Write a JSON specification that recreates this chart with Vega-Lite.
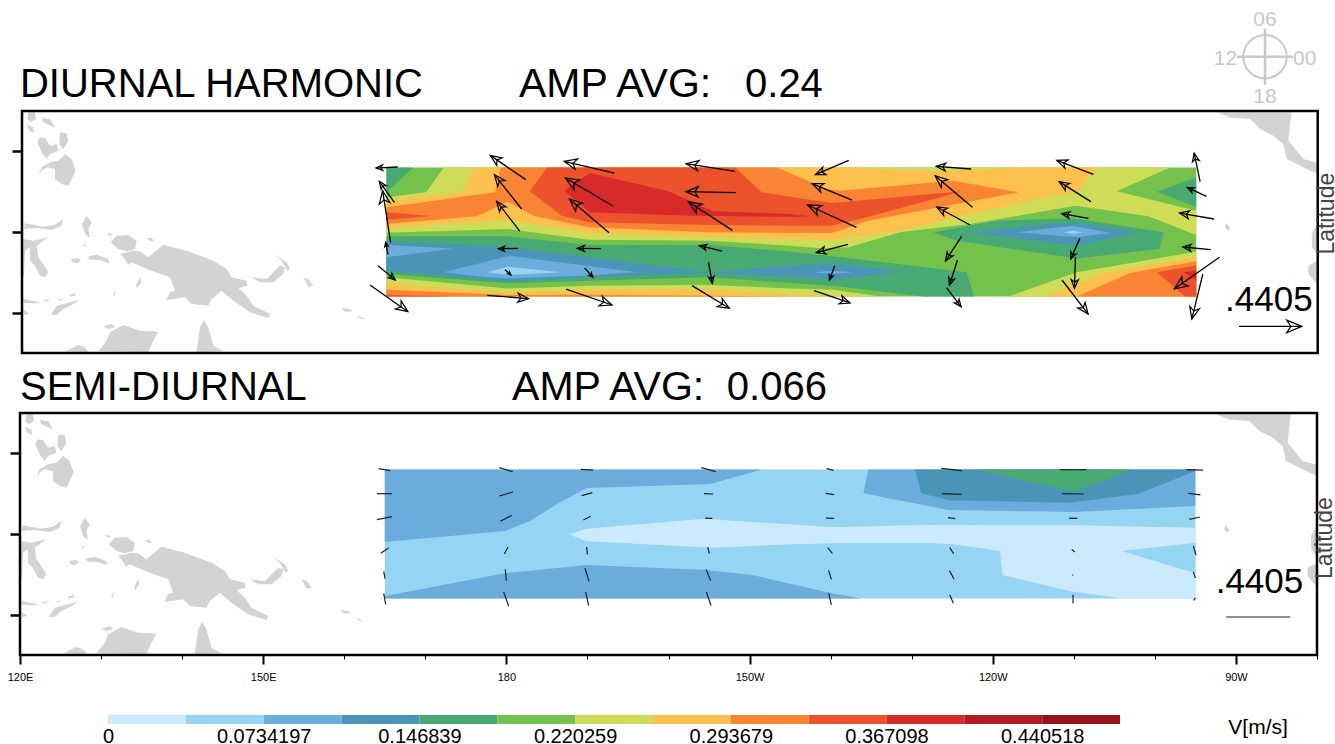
{
"$schema":"https://vega.github.io/schema/vega-lite/v6.json",
"padding":{"left":7,"top":8,"right":0,"bottom":0},
"background":"white",
"config":{"font":"Liberation Sans","view":{"stroke":null}},
"spacing":33,
"datasets":{
"frame":[{"lon":120,"lon2":280,"lat":-15,"lat2":15}],
"land":[
{"s":"a","lon":120.78,"lat":14.83},{"s":"a","lon":121.6,"lat":14.83},{"s":"a","lon":121.73,"lat":14.01},{"s":"a","lon":121.07,"lat":13.59},{"s":"a","lon":120.66,"lat":14.01},
{"s":"b","lon":122.42,"lat":14.13},{"s":"b","lon":123.45,"lat":14.01},{"s":"b","lon":124.07,"lat":12.97},{"s":"b","lon":123.25,"lat":13.3},{"s":"b","lon":122.63,"lat":13.59},
{"s":"c","lon":120.57,"lat":13.3},{"s":"c","lon":121.4,"lat":12.97},{"s":"c","lon":121.48,"lat":12.27},{"s":"c","lon":120.9,"lat":12.56},
{"s":"d","lon":122.14,"lat":11.73},{"s":"d","lon":122.84,"lat":11.65},{"s":"d","lon":123.45,"lat":10.7},{"s":"d","lon":124.28,"lat":10.91},{"s":"d","lon":124.48,"lat":10.08},{"s":"d","lon":123.45,"lat":9.67},{"s":"d","lon":123.04,"lat":9.05},{"s":"d","lon":122.42,"lat":9.88},{"s":"d","lon":121.89,"lat":11.11},
{"s":"e","lon":124.69,"lat":12.35},{"s":"e","lon":125.51,"lat":12.27},{"s":"e","lon":125.72,"lat":11.32},{"s":"e","lon":125.1,"lat":10.29},{"s":"e","lon":124.61,"lat":10.91},
{"s":"f","lon":122.01,"lat":6.98},{"s":"f","lon":122.42,"lat":8.02},{"s":"f","lon":123.45,"lat":8.64},{"s":"f","lon":124.48,"lat":8.84},{"s":"f","lon":125.31,"lat":9.67},{"s":"f","lon":126.13,"lat":9.05},{"s":"f","lon":126.62,"lat":7.6},{"s":"f","lon":126.13,"lat":6.57},{"s":"f","lon":125.72,"lat":5.74},{"s":"f","lon":124.89,"lat":5.95},{"s":"f","lon":124.07,"lat":6.57},{"s":"f","lon":124.07,"lat":7.81},{"s":"f","lon":123.04,"lat":8.02},{"s":"f","lon":122.42,"lat":7.6},
{"s":"g","lon":127.98,"lat":2.02},{"s":"g","lon":128.6,"lat":1.2},{"s":"g","lon":128.19,"lat":0.37},{"s":"g","lon":128.39,"lat":-0.74},{"s":"g","lon":127.78,"lat":-0.25},{"s":"g","lon":127.41,"lat":1.0},
{"s":"h","lon":120.37,"lat":1.07},{"s":"h","lon":122.63,"lat":0.66},{"s":"h","lon":124.07,"lat":0.91},{"s":"h","lon":125.1,"lat":1.61},{"s":"h","lon":124.89,"lat":0.78},{"s":"h","lon":123.66,"lat":0.25},{"s":"h","lon":121.81,"lat":0.5},{"s":"h","lon":120.24,"lat":0.37},
{"s":"i","lon":120.16,"lat":-0.87},{"s":"i","lon":121.4,"lat":-1.07},{"s":"i","lon":123.25,"lat":-0.66},{"s":"i","lon":121.81,"lat":-1.69},{"s":"i","lon":122.01,"lat":-3.14},{"s":"i","lon":122.63,"lat":-3.97},{"s":"i","lon":123.25,"lat":-5.0},{"s":"i","lon":122.84,"lat":-5.62},{"s":"i","lon":122.22,"lat":-5.41},{"s":"i","lon":121.6,"lat":-4.17},{"s":"i","lon":120.98,"lat":-3.55},{"s":"i","lon":120.98,"lat":-1.9},{"s":"i","lon":120.37,"lat":-2.31},{"s":"i","lon":120.24,"lat":-5.41},{"s":"i","lon":120.08,"lat":-5.41},
{"s":"j","lon":126.05,"lat":-3.35},{"s":"j","lon":126.95,"lat":-3.22},{"s":"j","lon":127.24,"lat":-3.55},{"s":"j","lon":126.75,"lat":-3.88},{"s":"j","lon":126.25,"lat":-3.76},
{"s":"k","lon":128.06,"lat":-3.06},{"s":"k","lon":129.22,"lat":-2.81},{"s":"k","lon":130.66,"lat":-3.35},{"s":"k","lon":130.78,"lat":-3.88},{"s":"k","lon":129.63,"lat":-3.47},{"s":"k","lon":128.39,"lat":-3.43},
{"s":"l","lon":130.45,"lat":-0.12},{"s":"l","lon":131.27,"lat":-0.25},{"s":"l","lon":130.86,"lat":-0.45},
{"s":"m","lon":135.39,"lat":-0.74},{"s":"m","lon":136.01,"lat":-0.74},{"s":"m","lon":136.3,"lat":-1.16},{"s":"m","lon":135.8,"lat":-1.07},
{"s":"n","lon":127.41,"lat":-1.57},{"s":"n","lon":128.06,"lat":-1.57},{"s":"n","lon":127.78,"lat":-1.78},
{"s":"o","lon":130.95,"lat":-1.28},{"s":"o","lon":131.69,"lat":-0.45},{"s":"o","lon":133.13,"lat":-0.37},{"s":"o","lon":134.16,"lat":-1.07},{"s":"o","lon":133.95,"lat":-2.11},{"s":"o","lon":132.92,"lat":-2.4},{"s":"o","lon":131.89,"lat":-2.11},
{"s":"p","lon":132.1,"lat":-2.73},{"s":"p","lon":133.74,"lat":-2.31},{"s":"p","lon":134.57,"lat":-2.4},{"s":"p","lon":135.6,"lat":-3.14},{"s":"p","lon":137.45,"lat":-1.57},{"s":"p","lon":140.33,"lat":-2.31},{"s":"p","lon":143.62,"lat":-3.55},{"s":"p","lon":145.27,"lat":-4.59},{"s":"p","lon":145.89,"lat":-5.62},{"s":"p","lon":147.74,"lat":-6.03},{"s":"p","lon":147.82,"lat":-6.65},{"s":"p","lon":146.71,"lat":-6.94},{"s":"p","lon":147.74,"lat":-7.89},{"s":"p","lon":148.56,"lat":-9.13},{"s":"p","lon":150.62,"lat":-10.16},{"s":"p","lon":150.41,"lat":-10.66},{"s":"p","lon":148.15,"lat":-9.96},{"s":"p","lon":146.09,"lat":-8.51},{"s":"p","lon":144.65,"lat":-7.27},{"s":"p","lon":143.42,"lat":-8.3},{"s":"p","lon":143.0,"lat":-9.13},{"s":"p","lon":140.95,"lat":-8.93},{"s":"p","lon":140.12,"lat":-8.1},{"s":"p","lon":138.68,"lat":-8.31},{"s":"p","lon":137.78,"lat":-8.43},{"s":"p","lon":138.27,"lat":-7.48},{"s":"p","lon":138.89,"lat":-7.27},{"s":"p","lon":138.27,"lat":-5.62},{"s":"p","lon":135.39,"lat":-4.59},{"s":"p","lon":133.54,"lat":-3.76},{"s":"p","lon":133.13,"lat":-4.05},{"s":"p","lon":132.51,"lat":-3.14},
{"s":"q","lon":148.36,"lat":-5.62},{"s":"q","lon":150.21,"lat":-5.83},{"s":"q","lon":151.85,"lat":-4.17},{"s":"q","lon":152.47,"lat":-4.38},{"s":"q","lon":152.27,"lat":-5.21},{"s":"q","lon":151.03,"lat":-6.24},{"s":"q","lon":149.38,"lat":-6.24},
{"s":"r","lon":151.03,"lat":-2.73},{"s":"r","lon":152.68,"lat":-3.76},{"s":"r","lon":153.09,"lat":-4.59},{"s":"r","lon":152.76,"lat":-4.79},{"s":"r","lon":152.06,"lat":-3.55},
{"s":"t1","lon":154.74,"lat":-5.62},{"s":"t1","lon":155.35,"lat":-5.83},{"s":"t1","lon":155.97,"lat":-6.65},{"s":"t1","lon":155.35,"lat":-6.78},
{"s":"t2","lon":159.47,"lat":-9.42},{"s":"t2","lon":160.5,"lat":-9.55},{"s":"t2","lon":160.83,"lat":-9.83},{"s":"t2","lon":159.88,"lat":-9.88},
{"s":"u","lon":161.4,"lat":-10.37},{"s":"u","lon":162.14,"lat":-10.66},{"s":"u","lon":162.35,"lat":-10.87},{"s":"u","lon":161.65,"lat":-10.66},
{"s":"v","lon":134.07,"lat":-6.65},{"s":"v","lon":134.57,"lat":-5.54},{"s":"v","lon":134.73,"lat":-6.24},{"s":"v","lon":134.24,"lat":-6.94},
{"s":"w","lon":131.19,"lat":-7.89},{"s":"w","lon":131.6,"lat":-7.19},{"s":"w","lon":131.48,"lat":-7.77},
{"s":"x","lon":120.16,"lat":-8.31},{"s":"x","lon":122.22,"lat":-8.72},{"s":"x","lon":122.01,"lat":-8.84},{"s":"x","lon":120.24,"lat":-8.8},
{"s":"y","lon":122.63,"lat":-8.43},{"s":"y","lon":123.45,"lat":-8.31},{"s":"y","lon":123.04,"lat":-8.64},
{"s":"z","lon":124.48,"lat":-8.31},{"s":"z","lon":125.1,"lat":-8.31},{"s":"z","lon":124.69,"lat":-8.51},
{"s":"aa","lon":125.92,"lat":-7.77},{"s":"aa","lon":126.66,"lat":-7.56},{"s":"aa","lon":126.54,"lat":-7.89},{"s":"aa","lon":125.92,"lat":-8.02},
{"s":"ab","lon":123.54,"lat":-10.25},{"s":"ab","lon":124.28,"lat":-9.13},{"s":"ab","lon":127.16,"lat":-8.39},{"s":"ab","lon":126.54,"lat":-8.84},{"s":"ab","lon":125.1,"lat":-9.55},{"s":"ab","lon":124.28,"lat":-10.29},
{"s":"ac","lon":120.16,"lat":-9.54},{"s":"ac","lon":120.9,"lat":-10.16},{"s":"ac","lon":120.24,"lat":-10.29},
{"s":"ad","lon":129.42,"lat":-14.79},{"s":"ad","lon":130.45,"lat":-13.47},{"s":"ad","lon":130.86,"lat":-12.44},{"s":"ad","lon":132.51,"lat":-11.53},{"s":"ad","lon":134.57,"lat":-12.23},{"s":"ad","lon":136.21,"lat":-12.31},{"s":"ad","lon":136.83,"lat":-12.44},{"s":"ad","lon":136.21,"lat":-13.47},{"s":"ad","lon":135.6,"lat":-14.92},
{"s":"ae","lon":130.04,"lat":-11.73},{"s":"ae","lon":131.07,"lat":-11.4},{"s":"ae","lon":131.48,"lat":-11.82},{"s":"ae","lon":130.66,"lat":-12.02},
{"s":"af","lon":125.31,"lat":-14.79},{"s":"af","lon":126.95,"lat":-14.01},{"s":"af","lon":127.78,"lat":-14.3},{"s":"af","lon":128.19,"lat":-14.92},
{"s":"ag","lon":141.56,"lat":-14.92},{"s":"ag","lon":141.98,"lat":-11.82},{"s":"ag","lon":142.47,"lat":-10.91},{"s":"ag","lon":143.0,"lat":-11.82},{"s":"ag","lon":143.62,"lat":-14.09},{"s":"ag","lon":144.86,"lat":-14.79},
{"s":"ah","lon":267.53,"lat":14.83},{"s":"ah","lon":276.79,"lat":14.83},{"s":"ah","lon":276.59,"lat":13.38},{"s":"ah","lon":276.38,"lat":11.32},{"s":"ah","lon":277.41,"lat":10.08},{"s":"ah","lon":278.23,"lat":9.04},{"s":"ah","lon":279.88,"lat":8.63},{"s":"ah","lon":279.88,"lat":7.27},{"s":"ah","lon":279.06,"lat":7.6},{"s":"ah","lon":277.41,"lat":8.42},{"s":"ah","lon":276.17,"lat":9.04},{"s":"ah","lon":275.76,"lat":10.9},{"s":"ah","lon":274.53,"lat":11.94},{"s":"ah","lon":272.88,"lat":12.76},{"s":"ah","lon":271.65,"lat":14.0},{"s":"ah","lon":269.18,"lat":14.2},
{"s":"ai","lon":268.68,"lat":1.07},{"s":"ai","lon":269.18,"lat":0.57},{"s":"ai","lon":268.97,"lat":0.16},{"s":"ai","lon":268.56,"lat":0.57},
{"s":"aj","lon":279.88,"lat":0.9},{"s":"aj","lon":279.26,"lat":-0.25},{"s":"aj","lon":279.3,"lat":-1.9},{"s":"aj","lon":279.88,"lat":-2.73},
{"s":"ak","lon":279.88,"lat":-3.64},{"s":"ak","lon":278.85,"lat":-4.18},{"s":"ak","lon":278.85,"lat":-5.21},{"s":"ak","lon":279.88,"lat":-6.45}
],
"bandsTop":[
{"s":"base","level":6,"lon":165,"lat":8},{"s":"base","level":6,"lon":265,"lat":8},{"s":"base","level":6,"lon":265,"lat":-8},{"s":"base","level":6,"lon":165,"lat":-8},
{"s":"n7","level":7,"lon":172.11,"lat":8},{"s":"n7","level":7,"lon":261.77,"lat":8},{"s":"n7","level":7,"lon":255.19,"lat":5.04},{"s":"n7","level":7,"lon":265,"lat":2.64},{"s":"n7","level":7,"lon":265,"lat":-0.37},{"s":"n7","level":7,"lon":259.1,"lat":1.94},{"s":"n7","level":7,"lon":250.04,"lat":3.26},{"s":"n7","level":7,"lon":237.07,"lat":0.99},{"s":"n7","level":7,"lon":228.43,"lat":-0.04},{"s":"n7","level":7,"lon":222.05,"lat":-1.9},{"s":"n7","level":7,"lon":218.96,"lat":-2.03},{"s":"n7","level":7,"lon":214.84,"lat":-1.7},{"s":"n7","level":7,"lon":205,"lat":-1.08},{"s":"n7","level":7,"lon":190,"lat":-0.95},{"s":"n7","level":7,"lon":180,"lat":0.37},{"s":"n7","level":7,"lon":165,"lat":-0.08},{"s":"n7","level":7,"lon":165,"lat":4.3},{"s":"n7","level":7,"lon":169.89,"lat":4.92},
{"s":"s7","level":7,"lon":165,"lat":-5.62},{"s":"s7","level":7,"lon":180,"lat":-6.99},{"s":"s7","level":7,"lon":190,"lat":-6.65},{"s":"s7","level":7,"lon":205,"lat":-6.57},{"s":"s7","level":7,"lon":214.84,"lat":-6.99},{"s":"s7","level":7,"lon":220.19,"lat":-7.15},{"s":"s7","level":7,"lon":225.96,"lat":-8},{"s":"s7","level":7,"lon":165,"lat":-8},
{"s":"br7","level":7,"lon":241.81,"lat":-8},{"s":"br7","level":7,"lon":250.25,"lat":-5.0},{"s":"br7","level":7,"lon":265,"lat":-2.44},{"s":"br7","level":7,"lon":265,"lat":-8},
{"s":"n8","level":8,"lon":175.94,"lat":8},{"s":"n8","level":8,"lon":222.05,"lat":8},{"s":"n8","level":8,"lon":233.37,"lat":7.5},{"s":"n8","level":8,"lon":243.25,"lat":8},{"s":"n8","level":8,"lon":252.63,"lat":8},{"s":"n8","level":8,"lon":250.25,"lat":4.92},{"s":"n8","level":8,"lon":248.6,"lat":4.79},{"s":"n8","level":8,"lon":237.07,"lat":2.23},{"s":"n8","level":8,"lon":228.43,"lat":0.16},{"s":"n8","level":8,"lon":220,"lat":-0.99},{"s":"n8","level":8,"lon":214.84,"lat":-0.87},{"s":"n8","level":8,"lon":205,"lat":-0.66},{"s":"n8","level":8,"lon":190,"lat":-0.13},{"s":"n8","level":8,"lon":180,"lat":1.53},{"s":"n8","level":8,"lon":165,"lat":0.49},{"s":"n8","level":8,"lon":165,"lat":3.88},{"s":"n8","level":8,"lon":174.29,"lat":4.92},
{"s":"s8","level":8,"lon":165,"lat":-6.45},{"s":"s8","level":8,"lon":180,"lat":-7.48},{"s":"s8","level":8,"lon":190,"lat":-7.15},{"s":"s8","level":8,"lon":205,"lat":-7.07},{"s":"s8","level":8,"lon":214.84,"lat":-7.77},{"s":"s8","level":8,"lon":224.72,"lat":-8},{"s":"s8","level":8,"lon":165,"lat":-8},
{"s":"br8","level":8,"lon":246.13,"lat":-8},{"s":"br8","level":8,"lon":253.54,"lat":-5.08},{"s":"br8","level":8,"lon":265,"lat":-3.06},{"s":"br8","level":8,"lon":265,"lat":-8},
{"s":"n9","level":9,"lon":179.11,"lat":8},{"s":"n9","level":9,"lon":213.2,"lat":8},{"s":"n9","level":9,"lon":216.08,"lat":6.77},{"s":"n9","level":9,"lon":219.37,"lat":5.33},{"s":"n9","level":9,"lon":221.02,"lat":5.12},{"s":"n9","level":9,"lon":235.01,"lat":6.36},{"s":"n9","level":9,"lon":243.04,"lat":4.92},{"s":"n9","level":9,"lon":232.13,"lat":2.85},{"s":"n9","level":9,"lon":224.51,"lat":1.4},{"s":"n9","level":9,"lon":220,"lat":-0.13},{"s":"n9","level":9,"lon":214.84,"lat":-0.13},{"s":"n9","level":9,"lon":205,"lat":-0.04},{"s":"n9","level":9,"lon":190,"lat":0.58},{"s":"n9","level":9,"lon":183.14,"lat":2.02},{"s":"n9","level":9,"lon":180,"lat":3.76},{"s":"n9","level":9,"lon":176.14,"lat":1.94},{"s":"n9","level":9,"lon":165,"lat":0.99},{"s":"n9","level":9,"lon":165,"lat":3.06},{"s":"n9","level":9,"lon":178.41,"lat":4.92},
{"s":"s9","level":9,"lon":165,"lat":-7.15},{"s":"s9","level":9,"lon":180,"lat":-7.81},{"s":"s9","level":9,"lon":190,"lat":-7.77},{"s":"s9","level":9,"lon":205,"lat":-7.89},{"s":"s9","level":9,"lon":214.84,"lat":-8},{"s":"s9","level":9,"lon":165,"lat":-8},
{"s":"br9","level":9,"lon":250.25,"lat":-8},{"s":"br9","level":9,"lon":256.83,"lat":-5.08},{"s":"br9","level":9,"lon":265,"lat":-3.64},{"s":"br9","level":9,"lon":265,"lat":-8},
{"s":"n10","level":10,"lon":184.79,"lat":8},{"s":"n10","level":10,"lon":208.05,"lat":8},{"s":"n10","level":10,"lon":211.34,"lat":4.92},{"s":"n10","level":10,"lon":216.08,"lat":4.17},{"s":"n10","level":10,"lon":220,"lat":3.59},{"s":"n10","level":10,"lon":236.12,"lat":5.04},{"s":"n10","level":10,"lon":224.31,"lat":1.82},{"s":"n10","level":10,"lon":220,"lat":0.78},{"s":"n10","level":10,"lon":214.84,"lat":0.78},{"s":"n10","level":10,"lon":205,"lat":0.87},{"s":"n10","level":10,"lon":190,"lat":1.2},{"s":"n10","level":10,"lon":186.64,"lat":2.02},{"s":"n10","level":10,"lon":182.73,"lat":5.04},
{"s":"n10b","level":10,"lon":165,"lat":2.44},{"s":"n10b","level":10,"lon":170.59,"lat":1.98},{"s":"n10b","level":10,"lon":165,"lat":1.53},
{"s":"s10","level":10,"lon":165,"lat":-7.77},{"s":"s10","level":10,"lon":173.26,"lat":-8},{"s":"s10","level":10,"lon":165,"lat":-8},
{"s":"br10","level":10,"lon":260.13,"lat":-5.0},{"s":"br10","level":10,"lon":265,"lat":-4.18},{"s":"br10","level":10,"lon":265,"lat":-8},{"s":"br10","level":10,"lon":263.63,"lat":-8},
{"s":"n11","level":11,"lon":186.93,"lat":5.12},{"s":"n11","level":11,"lon":190.14,"lat":7.31},{"s":"n11","level":11,"lon":199.82,"lat":5.04},{"s":"n11","level":11,"lon":205.38,"lat":2.56},{"s":"n11","level":11,"lon":214.84,"lat":2.23},{"s":"n11","level":11,"lon":217.31,"lat":1.94},{"s":"n11","level":11,"lon":214.84,"lat":1.9},{"s":"n11","level":11,"lon":202.49,"lat":2.02},{"s":"n11","level":11,"lon":190.14,"lat":2.44},
{"s":"br11","level":11,"lon":263.42,"lat":-5.0},{"s":"br11","level":11,"lon":265,"lat":-4.8},{"s":"br11","level":11,"lon":265,"lat":-6.03},
{"s":"nw5","level":5,"lon":165,"lat":8},{"s":"nw5","level":5,"lon":168.32,"lat":8},{"s":"nw5","level":5,"lon":165,"lat":4.92},
{"s":"ur5","level":5,"lon":260.13,"lat":5.0},{"s":"ur5","level":5,"lon":265,"lat":6.77},{"s":"ur5","level":5,"lon":265,"lat":3.14},
{"s":"c5","level":5,"lon":165,"lat":-0.54},{"s":"c5","level":5,"lon":180,"lat":-0.54},{"s":"c5","level":5,"lon":190,"lat":-1.61},{"s":"c5","level":5,"lon":205,"lat":-1.61},{"s":"c5","level":5,"lon":214.84,"lat":-2.44},{"s":"c5","level":5,"lon":220.19,"lat":-3.02},{"s":"c5","level":5,"lon":236.66,"lat":-5.0},{"s":"c5","level":5,"lon":237.57,"lat":-8},{"s":"c5","level":5,"lon":231.31,"lat":-8},{"s":"c5","level":5,"lon":220.19,"lat":-6.65},{"s":"c5","level":5,"lon":214.84,"lat":-6.32},{"s":"c5","level":5,"lon":205,"lat":-5.62},{"s":"c5","level":5,"lon":190,"lat":-6.03},{"s":"c5","level":5,"lon":180,"lat":-6.36},{"s":"c5","level":5,"lon":165,"lat":-5.21},
{"s":"i5","level":5,"lon":232.54,"lat":-0.04},{"s":"i5","level":5,"lon":240.37,"lat":1.4},{"s":"i5","level":5,"lon":249.84,"lat":1.69},{"s":"i5","level":5,"lon":260.95,"lat":-0.04},{"s":"i5","level":5,"lon":260.46,"lat":-2.11},{"s":"i5","level":5,"lon":250.25,"lat":-3.27},{"s":"i5","level":5,"lon":235.43,"lat":-1.08},
{"s":"c4","level":4,"lon":165,"lat":-1.16},{"s":"c4","level":4,"lon":180.26,"lat":-1.9},{"s":"c4","level":4,"lon":204.76,"lat":-5.0},{"s":"c4","level":4,"lon":214.84,"lat":-4.18},{"s":"c4","level":4,"lon":220.19,"lat":-3.84},{"s":"c4","level":4,"lon":228.63,"lat":-5.0},{"s":"c4","level":4,"lon":220.19,"lat":-5.83},{"s":"c4","level":4,"lon":214.84,"lat":-5.54},{"s":"c4","level":4,"lon":204.76,"lat":-5.04},{"s":"c4","level":4,"lon":190.14,"lat":-5.62},{"s":"c4","level":4,"lon":180.26,"lat":-6.12},{"s":"c4","level":4,"lon":165,"lat":-4.8},
{"s":"i4","level":4,"lon":236.87,"lat":-0.04},{"s":"i4","level":4,"lon":249.84,"lat":1.2},{"s":"i4","level":4,"lon":257.66,"lat":-0.04},{"s":"i4","level":4,"lon":250.25,"lat":-1.7},
{"s":"c3a","level":3,"lon":165,"lat":-1.61},{"s":"c3a","level":3,"lon":173.26,"lat":-2.03},{"s":"c3a","level":3,"lon":165,"lat":-3.14},
{"s":"c3b","level":3,"lon":172.03,"lat":-5.0},{"s":"c3b","level":3,"lon":180.26,"lat":-2.94},{"s":"c3b","level":3,"lon":195.91,"lat":-5.0},{"s":"c3b","level":3,"lon":189.32,"lat":-5.42},{"s":"c3b","level":3,"lon":180.26,"lat":-5.75},{"s":"c3b","level":3,"lon":177.38,"lat":-5.62},
{"s":"c3c","level":3,"lon":217.72,"lat":-5.0},{"s":"c3c","level":3,"lon":220,"lat":-4.8},{"s":"c3c","level":3,"lon":222.66,"lat":-5.0},{"s":"c3c","level":3,"lon":220,"lat":-5.21},
{"s":"i3","level":3,"lon":242.84,"lat":-0.04},{"s":"i3","level":3,"lon":249.84,"lat":0.78},{"s":"i3","level":3,"lon":254.36,"lat":-0.13},{"s":"i3","level":3,"lon":250.25,"lat":-0.66},
{"s":"c2","level":2,"lon":177.38,"lat":-5.0},{"s":"c2","level":2,"lon":179.97,"lat":-4.3},{"s":"c2","level":2,"lon":186.64,"lat":-5.0},{"s":"c2","level":2,"lon":180.26,"lat":-5.33},
{"s":"i2","level":2,"lon":248.6,"lat":-0.04},{"s":"i2","level":2,"lon":249.84,"lat":0.16},{"s":"i2","level":2,"lon":250.99,"lat":-0.04},{"s":"i2","level":2,"lon":249.84,"lat":-0.25}
],
"bandsBottom":[
{"s":"base","level":2,"lon":165,"lat":8},{"s":"base","level":2,"lon":265,"lat":8},{"s":"base","level":2,"lon":265,"lat":-8},{"s":"base","level":2,"lon":165,"lat":-8},
{"s":"a3","level":3,"lon":165,"lat":8},{"s":"a3","level":3,"lon":211.5,"lat":8},{"s":"a3","level":3,"lon":205.12,"lat":6.2},{"s":"a3","level":3,"lon":189.91,"lat":5.7},{"s":"a3","level":3,"lon":186.2,"lat":3.68},{"s":"a3","level":3,"lon":182.9,"lat":1.6},{"s":"a3","level":3,"lon":179.83,"lat":0.37},{"s":"a3","level":3,"lon":165,"lat":-0.99},
{"s":"b3","level":3,"lon":165,"lat":-7.7},{"s":"b3","level":3,"lon":179.83,"lat":-4.87},{"s":"b3","level":3,"lon":189.91,"lat":-3.84},{"s":"b3","level":3,"lon":204.71,"lat":-4.46},{"s":"b3","level":3,"lon":210.47,"lat":-5.12},{"s":"b3","level":3,"lon":215,"lat":-6.16},{"s":"b3","level":3,"lon":219.9,"lat":-7.27},{"s":"b3","level":3,"lon":223.63,"lat":-8},{"s":"b3","level":3,"lon":165,"lat":-8},
{"s":"c3","level":3,"lon":224.65,"lat":8},{"s":"c3","level":3,"lon":224.04,"lat":5.04},{"s":"c3","level":3,"lon":234.52,"lat":2.98},{"s":"c3","level":3,"lon":249.94,"lat":2.73},{"s":"c3","level":3,"lon":265,"lat":3.47},{"s":"c3","level":3,"lon":265,"lat":8},
{"s":"c4","level":4,"lon":230.41,"lat":8},{"s":"c4","level":4,"lon":231.15,"lat":5.04},{"s":"c4","level":4,"lon":234.73,"lat":4.17},{"s":"c4","level":4,"lon":249.53,"lat":3.88},{"s":"c4","level":4,"lon":257.96,"lat":5.0},{"s":"c4","level":4,"lon":265,"lat":7.81},{"s":"c4","level":4,"lon":265,"lat":8},
{"s":"c5","level":5,"lon":237.81,"lat":8},{"s":"c5","level":5,"lon":249.94,"lat":5.25},{"s":"c5","level":5,"lon":257.34,"lat":8},
{"s":"d1","level":1,"lon":187.73,"lat":-0.04},{"s":"d1","level":1,"lon":189.91,"lat":0.66},{"s":"d1","level":1,"lon":204.3,"lat":1.9},{"s":"d1","level":1,"lon":216.2,"lat":1.12},{"s":"d1","level":1,"lon":219.51,"lat":0.91},{"s":"d1","level":1,"lon":221.36,"lat":0.87},{"s":"d1","level":1,"lon":231.44,"lat":1.12},{"s":"d1","level":1,"lon":249.94,"lat":1.08},{"s":"d1","level":1,"lon":265,"lat":0.79},{"s":"d1","level":1,"lon":265,"lat":-8},{"s":"d1","level":1,"lon":256.11,"lat":-8},{"s":"d1","level":1,"lon":249.94,"lat":-7.15},{"s":"d1","level":1,"lon":241.22,"lat":-5.12},{"s":"d1","level":1,"lon":240.9,"lat":-2.11},{"s":"d1","level":1,"lon":235.14,"lat":-1.28},{"s":"d1","level":1,"lon":232.26,"lat":-1.16},{"s":"d1","level":1,"lon":221.16,"lat":-1.16},{"s":"d1","level":1,"lon":215,"lat":-1.28},{"s":"d1","level":1,"lon":205.53,"lat":-1.69},{"s":"d1","level":1,"lon":189.91,"lat":-0.91},
{"s":"e2","level":2,"lon":255.9,"lat":-2.11},{"s":"e2","level":2,"lon":265,"lat":-1.07},{"s":"e2","level":2,"lon":265,"lat":-4.87}
],
"arrows":[
{"lon":166.39,"lat":8.06,"lon2":163.71,"lat2":7.93,"speed":0.149,"dir":267.4},
{"lon":165.98,"lat":3.68,"lon2":164.12,"lat2":6.28,"speed":0.178,"dir":324.5},
{"lon":165.52,"lat":-1.28,"lon2":164.53,"lat2":5.12,"speed":0.36,"dir":351.2},
{"lon":165.19,"lat":-2.77,"lon2":164.9,"lat2":-1.28,"speed":0.084,"dir":349},
{"lon":163.96,"lat":-4.18,"lon2":166.1,"lat2":-5.95,"speed":0.155,"dir":129.6},
{"lon":162.97,"lat":-6.57,"lon2":167.66,"lat2":-9.88,"speed":0.32,"dir":125},
{"lon":182.2,"lat":6.49,"lon2":177.83,"lat2":9.5,"speed":0.295,"dir":304.6},
{"lon":181.7,"lat":2.85,"lon2":178.33,"lat2":7.11,"speed":0.302,"dir":321.5},
{"lon":181.46,"lat":0.12,"lon2":178.61,"lat2":3.8,"speed":0.258,"dir":322.2},
{"lon":181.25,"lat":-2.03,"lon2":178.82,"lat2":-2.07,"speed":0.135,"dir":271},
{"lon":179.64,"lat":-4.67,"lon2":180.38,"lat2":-5.33,"speed":0.055,"dir":131.6},
{"lon":177.46,"lat":-7.85,"lon2":182.57,"lat2":-8.27,"speed":0.285,"dir":94.6},
{"lon":193.15,"lat":7.31,"lon2":186.93,"lat2":8.76,"speed":0.356,"dir":283},
{"lon":192.98,"lat":3.22,"lon2":187.1,"lat2":6.69,"speed":0.38,"dir":300.4},
{"lon":192.49,"lat":-0.08,"lon2":187.59,"lat2":4.09,"speed":0.358,"dir":310.3},
{"lon":191.46,"lat":-2.07,"lon2":188.58,"lat2":-2.03,"speed":0.16,"dir":271},
{"lon":189.48,"lat":-4.46,"lon2":190.51,"lat2":-5.62,"speed":0.086,"dir":138},
{"lon":187.18,"lat":-7.07,"lon2":192.86,"lat2":-9.05,"speed":0.335,"dir":109},
{"lon":208.05,"lat":7.52,"lon2":202.0,"lat2":8.47,"speed":0.341,"dir":279},
{"lon":208.17,"lat":4.87,"lon2":201.96,"lat2":5.0,"speed":0.346,"dir":271},
{"lon":207.72,"lat":0.2,"lon2":202.29,"lat2":3.76,"speed":0.361,"dir":303},
{"lon":206.45,"lat":-2.36,"lon2":203.65,"lat2":-1.7,"speed":0.16,"dir":283},
{"lon":204.76,"lat":-3.72,"lon2":205.25,"lat2":-6.37,"speed":0.149,"dir":169.4},
{"lon":202.74,"lat":-6.65,"lon2":207.35,"lat2":-9.46,"speed":0.3,"dir":121},
{"lon":222.09,"lat":8.88,"lon2":217.97,"lat2":7.11,"speed":0.25,"dir":246.7},
{"lon":222.5,"lat":3.96,"lon2":217.56,"lat2":5.99,"speed":0.297,"dir":292.2},
{"lon":223.03,"lat":0.58,"lon2":217.02,"lat2":3.35,"speed":0.368,"dir":294.6},
{"lon":222.0,"lat":-1.53,"lon2":218.09,"lat2":-2.56,"speed":0.225,"dir":255},
{"lon":220.36,"lat":-4.18,"lon2":219.7,"lat2":-5.95,"speed":0.105,"dir":200.4},
{"lon":217.8,"lat":-7.27,"lon2":222.25,"lat2":-8.8,"speed":0.262,"dir":108.9},
{"lon":237.2,"lat":7.81,"lon2":232.87,"lat2":8.14,"speed":0.241,"dir":274.4},
{"lon":237.36,"lat":3.06,"lon2":232.75,"lat2":6.98,"speed":0.337,"dir":310.3},
{"lon":237.07,"lat":0.87,"lon2":232.96,"lat2":3.1,"speed":0.261,"dir":298.4},
{"lon":236.04,"lat":-0.5,"lon2":234.03,"lat2":-3.6,"speed":0.205,"dir":213.2},
{"lon":235.51,"lat":-3.51,"lon2":234.52,"lat2":-6.61,"speed":0.18,"dir":197.7},
{"lon":234.15,"lat":-6.9,"lon2":235.96,"lat2":-9.26,"speed":0.165,"dir":142.3},
{"lon":252.3,"lat":7.15,"lon2":247.78,"lat2":8.88,"speed":0.27,"dir":291},
{"lon":251.98,"lat":3.76,"lon2":248.06,"lat2":6.24,"speed":0.258,"dir":302.3},
{"lon":251.69,"lat":1.69,"lon2":248.39,"lat2":2.27,"speed":0.186,"dir":280},
{"lon":250.62,"lat":-0.79,"lon2":249.5,"lat2":-3.35,"speed":0.155,"dir":203.5},
{"lon":250.08,"lat":-3.14,"lon2":249.96,"lat2":-6.98,"speed":0.213,"dir":181.8},
{"lon":248.43,"lat":-5.95,"lon2":251.65,"lat2":-10.17,"speed":0.295,"dir":142.6},
{"lon":265.48,"lat":6.24,"lon2":264.74,"lat2":9.79,"speed":0.2,"dir":348.2},
{"lon":266.26,"lat":4.42,"lon2":263.87,"lat2":5.53,"speed":0.147,"dir":295},
{"lon":267.21,"lat":1.61,"lon2":262.93,"lat2":2.35,"speed":0.242,"dir":280},
{"lon":266.8,"lat":-2.19,"lon2":263.34,"lat2":-1.86,"speed":0.194,"dir":275.4},
{"lon":267.87,"lat":-3.14,"lon2":262.27,"lat2":-7.07,"speed":0.38,"dir":235},
{"lon":265.81,"lat":-5.21,"lon2":264.45,"lat2":-10.79,"speed":0.319,"dir":193.7},
{"lon":270.28,"lat":-11.7,"lon2":278.02,"lat2":-11.7,"speed":0.4405,"dir":90}
],
"segs":[
{"lon":164.25,"lat":8.1,"lon2":165.65,"lat2":7.85},{"lon":164.04,"lat":5.0,"lon2":165.89,"lat2":5.0},{"lon":164.04,"lat":1.78,"lon2":165.89,"lat2":2.15},{"lon":164.5,"lat":-2.4,"lon2":165.48,"lat2":-1.73},{"lon":164.87,"lat":-4.63,"lon2":165.03,"lat2":-5.54},{"lon":164.87,"lat":-7.35,"lon2":165.11,"lat2":-8.72},
{"lon":179.13,"lat":8.22,"lon2":180.78,"lat2":7.73},{"lon":179.13,"lat":4.71,"lon2":180.82,"lat2":5.21},{"lon":179.26,"lat":1.57,"lon2":180.66,"lat2":2.31},{"lon":179.75,"lat":-2.48,"lon2":180.2,"lat2":-1.61},{"lon":179.87,"lat":-4.38,"lon2":180.0,"lat2":-5.78},{"lon":179.67,"lat":-7.19,"lon2":180.29,"lat2":-8.97},
{"lon":189.21,"lat":8.02,"lon2":190.69,"lat2":7.93},{"lon":189.29,"lat":4.75,"lon2":190.61,"lat2":5.12},{"lon":189.5,"lat":1.74,"lon2":190.4,"lat2":2.19},{"lon":189.91,"lat":-1.61,"lon2":189.99,"lat2":-2.52},{"lon":189.7,"lat":-4.25,"lon2":190.2,"lat2":-5.87},{"lon":189.78,"lat":-7.19,"lon2":190.15,"lat2":-8.88},
{"lon":204.05,"lat":8.22,"lon2":205.82,"lat2":7.73},{"lon":204.38,"lat":5.0,"lon2":205.49,"lat2":4.96},{"lon":204.51,"lat":1.98,"lon2":205.41,"lat2":1.94},{"lon":204.84,"lat":-1.61,"lon2":205.04,"lat2":-2.44},{"lon":204.63,"lat":-4.38,"lon2":205.2,"lat2":-5.78},{"lon":204.67,"lat":-7.19,"lon2":205.25,"lat2":-8.88},
{"lon":219.51,"lat":8.1,"lon2":220.38,"lat2":7.89},{"lon":219.39,"lat":5.04,"lon2":220.42,"lat2":4.88},{"lon":219.43,"lat":1.98,"lon2":220.42,"lat2":1.94},{"lon":219.64,"lat":-1.69,"lon2":220.21,"lat2":-2.4},{"lon":219.76,"lat":-4.5,"lon2":220.09,"lat2":-5.62},{"lon":219.76,"lat":-7.31,"lon2":220.09,"lat2":-8.8},
{"lon":233.66,"lat":8.14,"lon2":236.17,"lat2":7.85},{"lon":233.74,"lat":5.0,"lon2":236.12,"lat2":4.92},{"lon":234.48,"lat":2.03,"lon2":235.39,"lat2":1.9},{"lon":234.69,"lat":-1.69,"lon2":235.18,"lat2":-2.44},{"lon":234.65,"lat":-4.54,"lon2":235.22,"lat2":-5.58},{"lon":234.69,"lat":-7.52,"lon2":235.14,"lat2":-8.59},
{"lon":248.26,"lat":7.98,"lon2":251.55,"lat2":7.98},{"lon":248.59,"lat":5.0,"lon2":251.22,"lat2":4.96},{"lon":249.41,"lat":1.98,"lon2":250.44,"lat2":1.94},{"lon":249.74,"lat":-1.9,"lon2":250.11,"lat2":-2.23},{"lon":249.82,"lat":-5.04,"lon2":249.94,"lat2":-5.12},{"lon":249.9,"lat":-7.52,"lon2":249.9,"lat2":-8.59},
{"lon":263.88,"lat":7.98,"lon2":265.94,"lat2":7.93},{"lon":264.13,"lat":5.04,"lon2":265.61,"lat2":4.84},{"lon":264.25,"lat":1.82,"lon2":265.57,"lat2":2.11},{"lon":264.75,"lat":-1.49,"lon2":265.07,"lat2":-2.6},{"lon":264.75,"lat":-4.71,"lon2":265.0,"lat2":-5.45},{"lon":264.79,"lat":-8.22,"lon2":265.0,"lat2":-7.93},
{"lon":268.8,"lat":-10.29,"lon2":276.7,"lat2":-10.29}
]
},
"vconcat":[
{
"spacing":12,
"vconcat":[
{
"width":1297,"height":242,
"encoding":{
"x":{"field":"lon","type":"quantitative","scale":{"domain":[119.753,279.91],"nice":false,"zero":false},"axis":null},
"y":{"field":"lat","type":"quantitative","scale":{"domain":[-15,15],"nice":false,"zero":false},"axis":{"title":null,"values":[-10,0,10],"labels":false,"domain":false,"grid":false,"tickSize":10,"tickWidth":2.5,"tickColor":"black","offset":-2}}
},
"layer":[
{"data":{"name":"land"},"mark":{"type":"line","order":false,"fill":"#d3d3d3","strokeWidth":0,"clip":true},"encoding":{"detail":{"field":"s"}}},
{"data":{"name":"bandsTop"},"mark":{"type":"line","order":false,"strokeWidth":0},"encoding":{"detail":{"field":"s"},"fill":{"field":"level","type":"ordinal","legend":null,"scale":{"domain":[1,2,3,4,5,6,7,8,9,10,11,12,13],"range":["#cbeafb","#96d4f4","#6aacdc","#4a94b8","#49a973","#74c24c","#cfdc58","#fcc04c","#f98433","#ec522b","#d92a2b","#b51b22","#96131b"]}}}},
{"data":{"name":"arrows"},"mark":{"type":"rule","color":"black","strokeWidth":1.3},"encoding":{"x2":{"field":"lon2"},"y2":{"field":"lat2"}}},
{"data":{"name":"arrows"},"mark":{"type":"point","shape":"M0,0L-0.42,1L0,0.72L0.42,1Z","filled":false,"stroke":"black","strokeWidth":1.2,"opacity":1},"encoding":{"x":{"field":"lon2","type":"quantitative"},"y":{"field":"lat2","type":"quantitative"},"angle":{"field":"dir","type":"quantitative","scale":null},"size":{"field":"speed","type":"quantitative","legend":null,"scale":{"type":"pow","exponent":1.5,"domain":[0,0.4405],"range":[0,900]}}}},
{"data":{"name":"frame"},"mark":{"type":"rect","filled":false,"stroke":"black","strokeWidth":2.5},"encoding":{"x2":{"field":"lon2"},"y2":{"field":"lat2"}}},
{"data":{"values":[{"text":"DIURNAL HARMONIC","lon":119.75,"lat":16.72},{"text":"0.24","lon":209.28,"lat":16.72}]},"mark":{"type":"text","align":"left","baseline":"alphabetic","fontSize":40,"color":"black"},"encoding":{"text":{"field":"text"}}},
{"data":{"values":[{"text":"AMP AVG:","lon":181.37,"lat":16.72}]},"mark":{"type":"text","align":"left","baseline":"alphabetic","fontSize":41,"color":"black"},"encoding":{"text":{"field":"text"}}},
{"data":{"values":[{"text":".4405","lon":268.56,"lat":-9.76}]},"mark":{"type":"text","align":"left","baseline":"alphabetic","fontSize":35,"color":"black"},"encoding":{"text":{"field":"text"}}},
{"data":{"values":[{"text":"Latitude","lon":281.98,"lat":2.27}]},"mark":{"type":"text","align":"center","baseline":"alphabetic","angle":270,"fontSize":23,"color":"#444444"},"encoding":{"text":{"field":"text"}}},
{"data":{"values":[{"lon":273.49,"lat":21.73}]},"mark":{"type":"point","shape":"circle","size":1884,"filled":false,"stroke":"#c8c8c8","strokeWidth":2,"opacity":1}},
{"data":{"values":[{"lon":273.49,"lat":25.2,"lon2":273.49,"lat2":18.26},{"lon":270.04,"lat":21.73,"lon2":276.95,"lat2":21.73}]},"mark":{"type":"rule","color":"#c8c8c8","strokeWidth":2.5},"encoding":{"x2":{"field":"lon2"},"y2":{"field":"lat2"}}},
{"data":{"values":[{"text":"06","lon":273.49,"lat":25.57},{"text":"18","lon":273.49,"lat":16.03}]},"mark":{"type":"text","align":"center","baseline":"alphabetic","fontSize":21,"color":"#c8c8c8"},"encoding":{"text":{"field":"text"}}},
{"data":{"values":[{"text":"12","lon":270.04,"lat":20.74}]},"mark":{"type":"text","align":"right","baseline":"alphabetic","fontSize":21,"color":"#c8c8c8"},"encoding":{"text":{"field":"text"}}},
{"data":{"values":[{"text":"00","lon":276.95,"lat":20.74}]},"mark":{"type":"text","align":"left","baseline":"alphabetic","fontSize":21,"color":"#c8c8c8"},"encoding":{"text":{"field":"text"}}}
]
},
{
"width":1297,"height":242,
"encoding":{
"x":{"field":"lon","type":"quantitative","scale":{"domain":[120,280],"nice":false,"zero":false},"axis":{"title":null,"values":[120,130,140,150,160,170,180,190,200,210,220,230,240,250,260,270,280],"grid":false,"domain":false,"tickColor":"black","tickWidth":{"condition":{"test":"datum.value % 30 === 0","value":2},"value":1},"tickSize":{"condition":{"test":"datum.value % 30 === 0","value":9},"value":4},"labelExpr":"datum.value % 30 !== 0 ? '' : datum.value < 180 ? datum.value + 'E' : datum.value === 180 ? '180' : (360 - datum.value) + 'W'","labelFontSize":11,"labelPadding":7,"labelColor":"black","labelOverlap":false,"labelFlush":false}},
"y":{"field":"lat","type":"quantitative","scale":{"domain":[-15,15],"nice":false,"zero":false},"axis":{"title":null,"values":[-10,0,10],"labels":false,"domain":false,"grid":false,"tickSize":10,"tickWidth":2.5,"tickColor":"black"}}
},
"layer":[
{"data":{"name":"land"},"mark":{"type":"line","order":false,"fill":"#d3d3d3","strokeWidth":0,"clip":true},"encoding":{"detail":{"field":"s"}}},
{"data":{"name":"bandsBottom"},"mark":{"type":"line","order":false,"strokeWidth":0},"encoding":{"detail":{"field":"s"},"fill":{"field":"level","type":"ordinal","legend":null,"scale":{"domain":[1,2,3,4,5,6,7,8,9,10,11,12,13],"range":["#cbeafb","#96d4f4","#6aacdc","#4a94b8","#49a973","#74c24c","#cfdc58","#fcc04c","#f98433","#ec522b","#d92a2b","#b51b22","#96131b"]}}}},
{"data":{"name":"segs"},"mark":{"type":"rule","color":"#222222","strokeWidth":1.2},"encoding":{"x2":{"field":"lon2"},"y2":{"field":"lat2"}}},
{"data":{"name":"frame"},"mark":{"type":"rect","filled":false,"stroke":"black","strokeWidth":2.5},"encoding":{"x2":{"field":"lon2"},"y2":{"field":"lat2"}}},
{"data":{"values":[{"text":"SEMI-DIURNAL","lon":120,"lat":16.6},{"text":"0.066","lon":207.2,"lat":16.6}]},"mark":{"type":"text","align":"left","baseline":"alphabetic","fontSize":40,"color":"black"},"encoding":{"text":{"field":"text"}}},
{"data":{"values":[{"text":"AMP AVG:","lon":180.7,"lat":16.6}]},"mark":{"type":"text","align":"left","baseline":"alphabetic","fontSize":41,"color":"black"},"encoding":{"text":{"field":"text"}}},
{"data":{"values":[{"text":".4405","lon":267.5,"lat":-7.31}]},"mark":{"type":"text","align":"left","baseline":"alphabetic","fontSize":35,"color":"black"},"encoding":{"text":{"field":"text"}}},
{"data":{"values":[{"text":"Latitude","lon":281.9,"lat":-0.5}]},"mark":{"type":"text","align":"center","baseline":"alphabetic","angle":270,"fontSize":23,"color":"#444444"},"encoding":{"text":{"field":"text"}}}
]
}
]
},
{
"width":1297,"height":9,
"encoding":{
"x":{"field":"v0","type":"quantitative","scale":{"domain":[-0.0415,0.5701],"nice":false,"zero":false},"axis":{"title":null,"values":[0,0.0734197,0.146839,0.220259,0.293679,0.367098,0.440518],"format":".6~g","grid":false,"domain":false,"ticks":false,"labelFontSize":20,"labelPadding":2,"labelColor":"black","labelOverlap":false,"labelFlush":false}}
},
"layer":[
{"data":{"values":[{"level":1,"v0":0,"v1":0.03671},{"level":2,"v0":0.03671,"v1":0.0734197},{"level":3,"v0":0.0734197,"v1":0.11013},{"level":4,"v0":0.11013,"v1":0.146839},{"level":5,"v0":0.146839,"v1":0.18355},{"level":6,"v0":0.18355,"v1":0.220259},{"level":7,"v0":0.220259,"v1":0.25697},{"level":8,"v0":0.25697,"v1":0.293679},{"level":9,"v0":0.293679,"v1":0.33039},{"level":10,"v0":0.33039,"v1":0.367098},{"level":11,"v0":0.367098,"v1":0.40381},{"level":12,"v0":0.40381,"v1":0.440518},{"level":13,"v0":0.440518,"v1":0.47723}]},"mark":{"type":"rect"},"encoding":{"x2":{"field":"v1"},"fill":{"field":"level","type":"ordinal","legend":null,"scale":{"domain":[1,2,3,4,5,6,7,8,9,10,11,12,13],"range":["#cbeafb","#96d4f4","#6aacdc","#4a94b8","#49a973","#74c24c","#cfdc58","#fcc04c","#f98433","#ec522b","#d92a2b","#b51b22","#96131b"]}}}},
{"data":{"values":[{"v0":0.5283,"text":"V[m/s]"}]},"mark":{"type":"text","align":"left","baseline":"alphabetic","fontSize":21,"dy":14,"color":"black"},"encoding":{"text":{"field":"text"}}}
]
}
]
}
